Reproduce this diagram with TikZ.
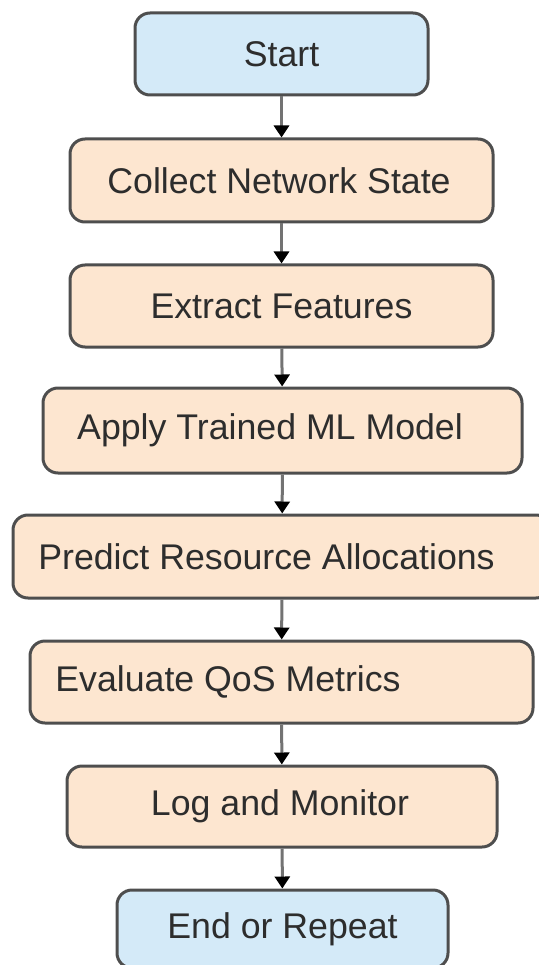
\documentclass[tikz,border=0pt]{standalone}
\usepackage{fontspec}
\setmainfont{Liberation Sans}
\usetikzlibrary{arrows.meta}
\definecolor{peach}{RGB}{253,230,208}
\definecolor{skyfill}{RGB}{212,234,248}
\definecolor{edgegray}{RGB}{78,78,78}
\definecolor{linkgray}{RGB}{115,115,115}
\definecolor{inkgray}{RGB}{45,45,45}
\tikzset{
  flowbox/.style={draw=edgegray, line width=3pt, rounded corners=15pt,
    fill=peach, text=inkgray, inner sep=0pt,
    font=\fontsize{35.7}{40}\selectfont},
  termbox/.style={flowbox, fill=skyfill},
  link/.style={draw=linkgray, line width=3pt,
    -{Triangle[width=15pt,length=12pt,color=black]}}
}
\begin{document}
\begin{tikzpicture}[x=1pt,y=-1pt]
\useasboundingbox (0,0) rectangle (538,965);
\node[termbox, minimum width=293pt, minimum height=82pt] (start) at (281.5,54) {Start};
\node[flowbox, minimum width=423pt, minimum height=83pt] (collect) at (281.5,180.5) {Collect Network State\kern5pt};
\node[flowbox, minimum width=423pt, minimum height=82pt] (extract) at (281.5,306) {Extract Features};
\node[flowbox, minimum width=479pt, minimum height=85pt] (apply) at (282.5,430.5) {Apply Trained ML Model\kern25pt};
\node[flowbox, minimum width=538pt, minimum height=83pt] (predict) at (282,556.5) {Predict Resource Allocations\kern31pt};
\node[flowbox, minimum width=503pt, minimum height=82pt] (evaluate) at (281.5,682) {Evaluate QoS Metrics\kern107pt};
\node[flowbox, minimum width=430pt, minimum height=81pt] (logmon) at (282,806.5) {Log and Monitor\kern4pt};
\node[termbox, minimum width=331pt, minimum height=78pt] (finish) at (282.5,929) {End or Repeat};
\draw[link] (start) -- (collect);
\draw[link] (collect) -- (extract);
\draw[link] (extract) -- (apply);
\draw[link] (apply) -- (predict);
\draw[link] (predict) -- (evaluate);
\draw[link] (evaluate) -- (logmon);
\draw[link] (logmon) -- (finish);
\end{tikzpicture}
\end{document}
